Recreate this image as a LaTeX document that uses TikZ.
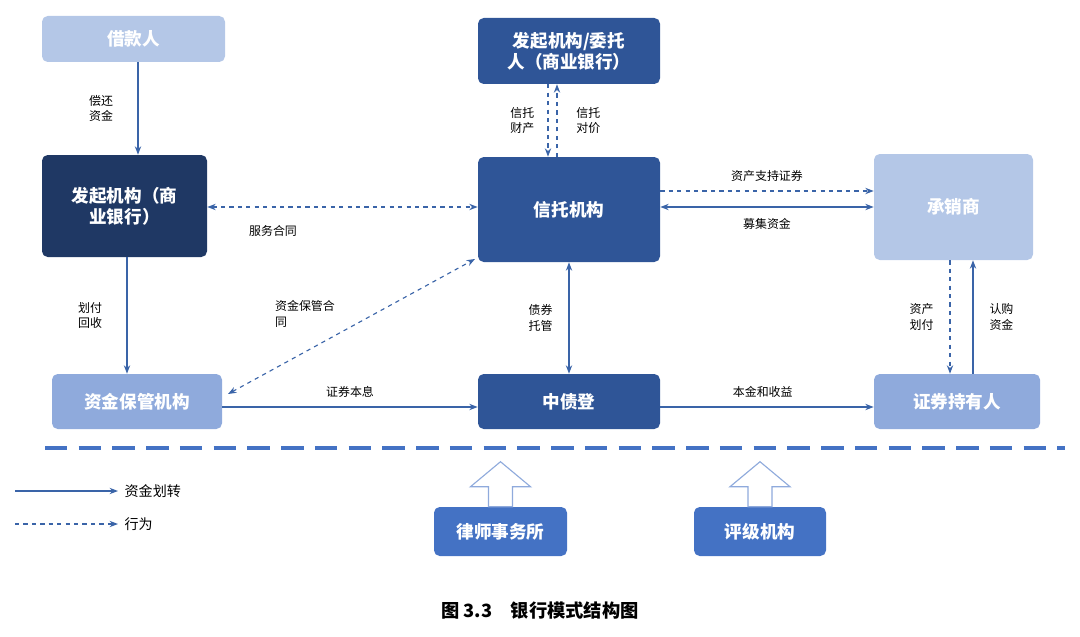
\documentclass[tikz,border=0pt]{standalone}
\usepackage{fontspec}
\setmainfont{Noto Sans CJK SC}
\usetikzlibrary{arrows.meta,calc}
\definecolor{pale}{HTML}{B4C7E7}
\definecolor{mid}{HTML}{8FAADC}
\definecolor{deep}{HTML}{2F5597}
\definecolor{navy}{HTML}{1F3864}
\definecolor{royal}{HTML}{4472C4}
\definecolor{line}{HTML}{3A64A8}
\tikzset{
  box/.style={rounded corners=4pt, text=white, font=\bfseries\fontsize{12.5}{15}\selectfont, align=center, inner sep=0pt},
  lbl/.style={font=\fontsize{8.5}{11}\selectfont, align=center, text=black},
  flow/.style={draw=line, thick, -{Stealth[length=6pt]}},
  act/.style={draw=line, thick, dashed, -{Stealth[length=6pt]}},
}
\begin{document}
\begin{tikzpicture}[x=0.025cm, y=-0.025cm]
\useasboundingbox (0,0) rectangle (1080,637);
% boxes
\node[box, fill=pale, minimum width=183*0.025cm, minimum height=46*0.025cm] (borrower) at (133.5,39) {借款人};
\node[box, fill=deep, minimum width=182*0.025cm, minimum height=66*0.025cm] (trustor) at (569,51) {发起机构/委托\\人（商业银行）};
\node[box, fill=navy, minimum width=165*0.025cm, minimum height=102*0.025cm] (bank) at (124.5,206) {发起机构（商\\业银行）};
\node[box, fill=deep, minimum width=182*0.025cm, minimum height=105*0.025cm] (trust) at (569,209.5) {信托机构};
\node[box, fill=pale, minimum width=159*0.025cm, minimum height=106*0.025cm] (under) at (953.5,207) {承销商};
\node[box, fill=mid, minimum width=170*0.025cm, minimum height=55*0.025cm] (custody) at (137,401.5) {资金保管机构};
\node[box, fill=deep, minimum width=182*0.025cm, minimum height=55*0.025cm] (ccdc) at (569,401.5) {中债登};
\node[box, fill=mid, minimum width=166*0.025cm, minimum height=55*0.025cm] (holder) at (957,401.5) {证券持有人};
\node[box, fill=royal, minimum width=133*0.025cm, minimum height=49*0.025cm] (lawyer) at (500.5,531.5) {律师事务所};
\node[box, fill=royal, minimum width=132*0.025cm, minimum height=49*0.025cm] (rating) at (760,531.5) {评级机构};

% connectors
\draw[flow] (borrower.south -| 138,0) -- (bank.north -| 138,0) node[lbl, midway, left=14pt] {偿还\\资金};
\draw[act] (trustor.south -| 548,0) -- (trust.north -| 548,0) node[lbl, midway, left=6pt] {信托\\财产};
\draw[act] (trust.north -| 557,0) -- (trustor.south -| 557,0) node[lbl, midway, right=10pt] {信托\\对价};
\draw[act, {Stealth[length=6pt]}-{Stealth[length=6pt]}] (bank.east |- 0,207) -- (trust.west |- 0,207);
\node[lbl] (svc) at (273,231) {服务合同};
\draw[act] (trust.east |- 0,191) -- (under.west |- 0,191) node[lbl, midway, above=3pt] {资产支持证券};
\draw[flow, {Stealth[length=6pt]}-{Stealth[length=6pt]}] (trust.east |- 0,207) -- (under.west |- 0,207) node[lbl, midway, below=4pt] {募集资金};
\draw[flow] (bank.south -| 127,0) -- (custody.north -| 127,0) node[lbl, midway, left=14pt] {划付\\回收};
\coordinate (cuNE) at (228,394);
\coordinate (trSW) at (475,259);
\draw[act, {Stealth[length=6pt]}-{Stealth[length=6pt]}] (cuNE) -- (trSW);
\node[lbl, align=left] (cuLbl) at (305,314) {资金保管合\\同};
\draw[flow, {Stealth[length=6pt]}-{Stealth[length=6pt]}] (trust.south -| 569,0) -- (ccdc.north -| 569,0) node[lbl, midway, left=8pt] {债券\\托管};
\draw[flow] (custody.east |- 0,407) -- (ccdc.west |- 0,407) node[lbl, pos=0.5, above=3pt] {证券本息};
\draw[flow] (ccdc.east |- 0,407) -- (holder.west |- 0,407) node[lbl, pos=0.48, above=3pt] {本金和收益};
\draw[act] (under.south -| 950,0) -- (holder.north -| 950,0) node[lbl, midway, left=8pt] {资产\\划付};
\draw[flow] (holder.north -| 973,0) -- (under.south -| 973,0) node[lbl, midway, right=8pt] {认购\\资金};

% separator
\draw[royal, line width=3pt, dash pattern=on 16pt off 8pt] (45,448) -- (1065,448);

% hollow arrows
\foreach \b in {lawyer, rating}
  \draw[mid, thick, fill=white] ($(\b.north)+(-12,0)$) -- ++(0,-20) -- ++(-18,0) -- ++(30,-25) -- ++(30,25) -- ++(-18,0) -- ++(0,20) -- cycle;

% legend
\coordinate (lg1) at (15,491);
\coordinate (lg2) at (15,524);
\draw[flow] (lg1) -- ++(103,0) node[lbl, right=1pt, font=\fontsize{10}{12}\selectfont] (lgA) {资金划转};
\draw[act] (lg2) -- ++(103,0) node[lbl, right=1pt, font=\fontsize{10}{12}\selectfont] (lgB) {行为};

% caption
\node[font=\bfseries\fontsize{13}{15}\selectfont] (cap) at (540,611) {图 3.3\quad 银行模式结构图};
\end{tikzpicture}
\end{document}
